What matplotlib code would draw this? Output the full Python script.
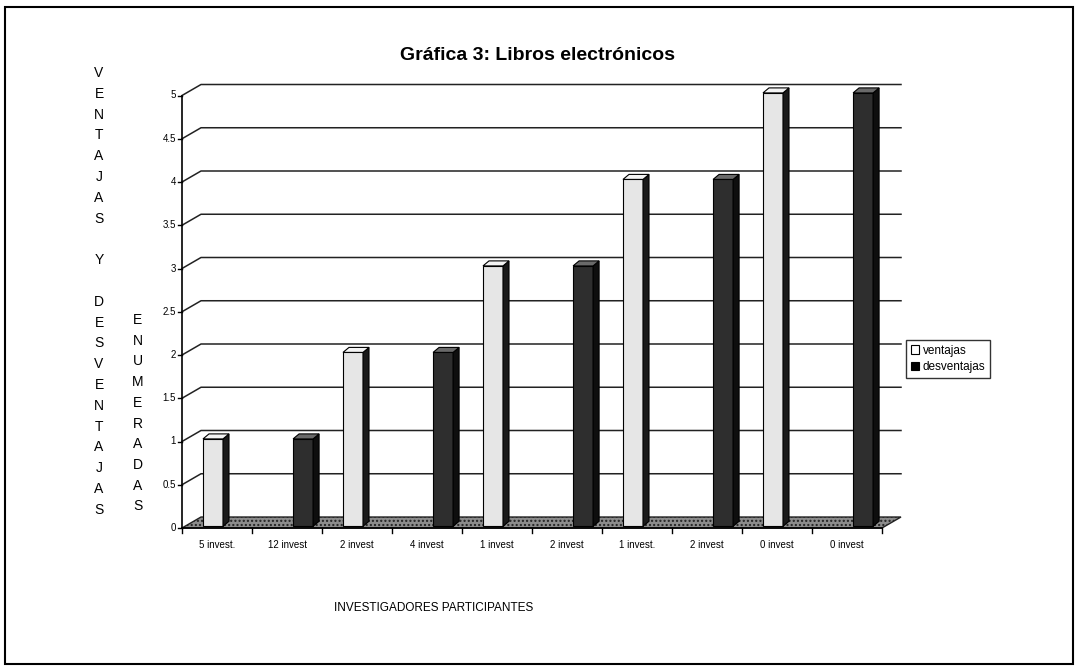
import numpy as np
import matplotlib
matplotlib.use("Agg")
import matplotlib.pyplot as plt
import matplotlib.patches as patches
from matplotlib.patches import Polygon

plt.rcParams['font.family'] = ['Liberation Sans', 'DejaVu Sans']

# data
categorias = ["5 invest.", "12 invest", "2 invest", "4 invest", "1 invest",
              "2 invest", "1 invest.", "2 invest", "0 invest", "0 invest"]
ventajas = [1, 0, 2, 0, 3, 0, 4, 0, 5, 0]
desventajas = [0, 1, 0, 2, 0, 3, 0, 4, 0, 5]
y_ticks = [0, 0.5, 1, 1.5, 2, 2.5, 3, 3.5, 4, 4.5, 5]
y_labels = ["0", "0.5", "1", "1.5", "2", "2.5", "3", "3.5", "4", "4.5", "5"]

W, H = 1080, 671
fig = plt.figure(figsize=(W / 100, H / 100), dpi=100)
ax = fig.add_axes([0, 0, 1, 1])
# pixel mapping: x=0 at px 182, 70px per category; y=0 at px 528, 86.5px per unit
px_x, px_y = 70.0, 86.5
ax.set_xlim(-182 / px_x, (W - 182) / px_x)
ax.set_ylim(-(H - 528) / px_y, 528 / px_y)
ax.axis("off")

n = len(categorias)
dx, dy = 19 / px_x, 11 / px_y        # depth of the 3D box
bw = 20 / px_x                       # bar width
sx, sy = 6 / px_x, 5 / px_y          # bar depth (side/top faces)

# floor
floor = Polygon([(0, 0), (n, 0), (n + dx, dy), (dx, dy)], closed=True,
                facecolor="#8c8c8c", edgecolor="#222222", lw=1, hatch="....", zorder=1)
ax.add_patch(floor)

# gridlines on back wall + left wall diagonals
for v in y_ticks[1:]:
    ax.plot([0, dx, n + dx], [v, v + dy, v + dy], color="#222222", lw=1.1, zorder=0)

# y axis
ax.plot([0, 0], [0, 5], color="black", lw=1.2, zorder=5)
for v, lab in zip(y_ticks, y_labels):
    ax.plot([-0.06, 0], [v, v], color="black", lw=1, zorder=5)
    ax.text(-0.09, v, lab, ha="right", va="center", fontsize=7, zorder=5)

# x axis
ax.plot([0, n], [0, 0], color="black", lw=1.2, zorder=5)
for i in range(n + 1):
    ax.plot([i, i], [0, -0.06], color="black", lw=1, zorder=5)
for i, lab in enumerate(categorias):
    ax.text(i + 0.5, -0.2, lab, ha="center", va="center", fontsize=7,
            fontstretch="condensed", zorder=5)


def bar3d(x0, v, front, side, top):
    if v <= 0:
        return
    y0, y1 = 0.02, v + 0.03
    ax.add_patch(patches.Rectangle((x0, y0), bw, y1 - y0, facecolor=front,
                                   edgecolor="black", lw=0.8, zorder=3))
    ax.add_patch(Polygon([(x0 + bw, y0), (x0 + bw + sx, y0 + sy),
                          (x0 + bw + sx, y1 + sy), (x0 + bw, y1)], closed=True,
                         facecolor=side, edgecolor="black", lw=0.8, zorder=3))
    ax.add_patch(Polygon([(x0, y1), (x0 + sx, y1 + sy), (x0 + bw + sx, y1 + sy),
                          (x0 + bw, y1)], closed=True,
                         facecolor=top, edgecolor="black", lw=0.8, zorder=3))


for i in range(n):
    bar3d(i + 0.30, ventajas[i], "#e6e6e6", "#1a1a1a", "#f4f4f4")
    bar3d(i + 0.587, desventajas[i], "#2e2e2e", "#0e0e0e", "#6a6a6a")

# titles
fig.text(538 / W, 1 - 55 / H, "Gráfica 3: Libros electrónicos", ha="center",
         va="center", fontsize=14, fontweight="bold")
fig.text(434 / W, 1 - 608 / H, "INVESTIGADORES PARTICIPANTES", ha="center",
         va="center", fontsize=8.5)

letras1 = "VENTAJAS Y DESVENTAJAS"
for k, ch in enumerate(letras1):
    if ch != " ":
        fig.text(99 / W, 1 - (73 + k * 20.8) / H, ch, ha="center", va="center", fontsize=10)
letras2 = "ENUMERADAS"
for k, ch in enumerate(letras2):
    fig.text(138 / W, 1 - (320 + k * 20.7) / H, ch, ha="center", va="center", fontsize=10)

# legend
h1 = patches.Patch(facecolor="white", edgecolor="black", lw=0.8, label="ventajas")
h2 = patches.Patch(facecolor="black", edgecolor="black", lw=0.8, label="desventajas")
leg = fig.legend(handles=[h1, h2], loc="upper left", bbox_to_anchor=(906 / W, 1 - 340 / H),
                 fontsize=8.5, frameon=True, fancybox=False, handlelength=0.7,
                 handleheight=0.7, handletextpad=0.3, borderpad=0.4, labelspacing=0.4,
                 borderaxespad=0)
leg.get_frame().set_edgecolor("black")
leg.get_frame().set_linewidth(1)

# outer frame
fig.add_artist(patches.Rectangle((5 / W, 1 - 664 / H), 1068 / W, 657 / H,
                                 transform=fig.transFigure, fill=False,
                                 edgecolor="black", lw=1.5))

fig.savefig("out.png", dpi=100)
